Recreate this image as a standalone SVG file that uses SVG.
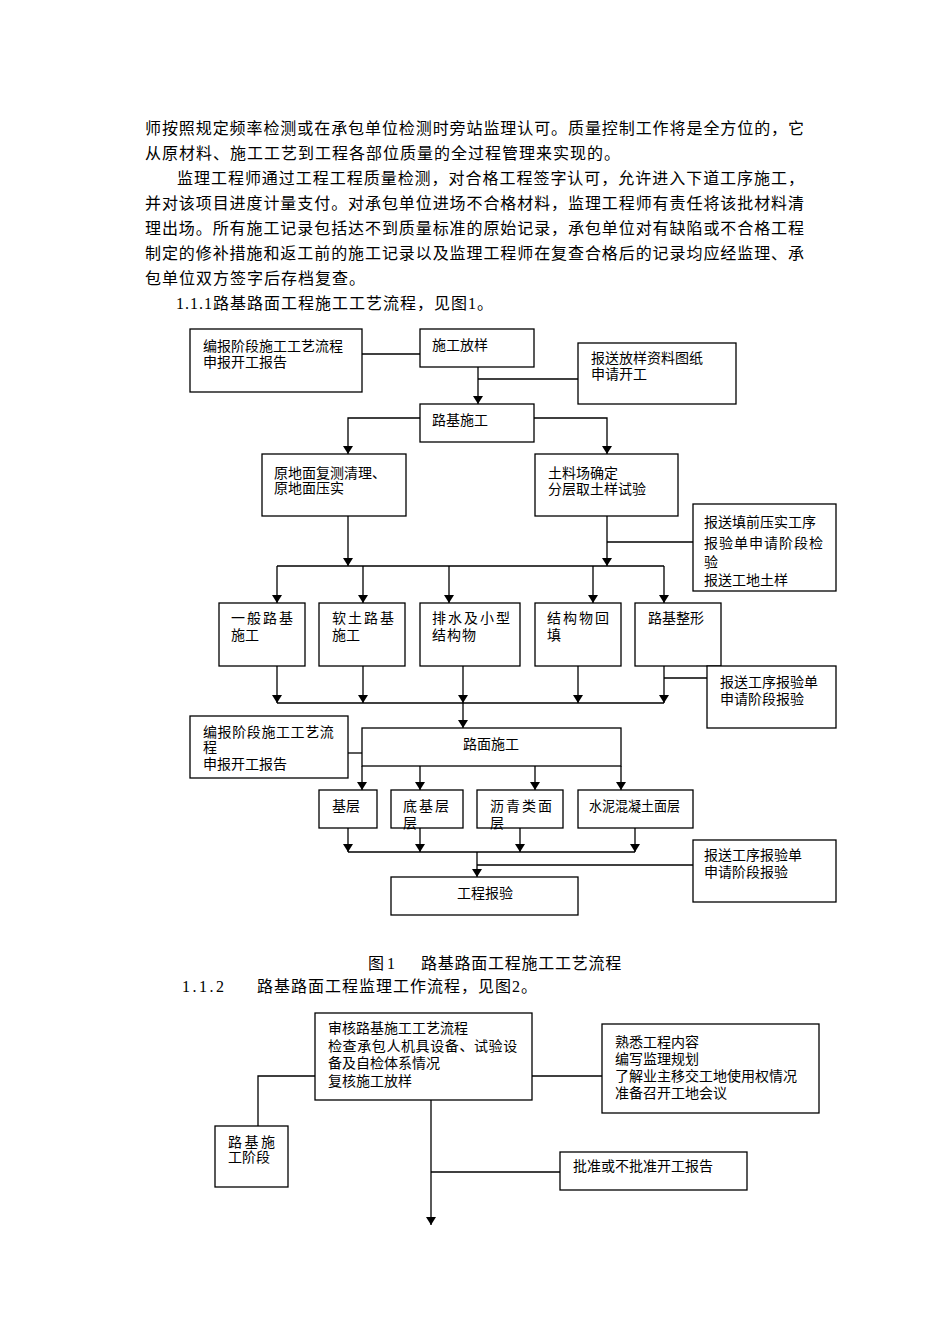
<svg xmlns="http://www.w3.org/2000/svg" width="950" height="1344" viewBox="0 0 950 1344">
<defs>
<style>
.t{font-family:"Liberation Serif","Noto Sans CJK SC",serif;font-size:14px;fill:#000}
.p{font-size:16px;letter-spacing:1px}
.s{letter-spacing:2px}
.b{fill:#fff;stroke:#000;stroke-width:1.3}
.c{fill:none;stroke:#000;stroke-width:1.3}
.a{marker-end:url(#ar)}
</style>
<marker id="ar" viewBox="0 0 8 10" markerWidth="8" markerHeight="10" refX="8" refY="5" orient="auto" markerUnits="userSpaceOnUse">
<path d="M0,0 L8,5 L0,10 z" fill="#000"/>
</marker>
</defs>
<rect width="950" height="1344" fill="#fff"/>
<g id="body-text" class="t">
<text class="p" x="145" y="134" textLength="660" lengthAdjust="spacing">师按照规定频率检测或在承包单位检测时旁站监理认可。质量控制工作将是全方位的，它</text>
<text class="p" x="145" y="159">从原材料、施工工艺到工程各部位质量的全过程管理来实现的。</text>
<text class="p" x="177" y="184" textLength="628" lengthAdjust="spacing">监理工程师通过工程工程质量检测，对合格工程签字认可，允许进入下道工序施工，</text>
<text class="p" x="145" y="209" textLength="660" lengthAdjust="spacing">并对该项目进度计量支付。对承包单位进场不合格材料，监理工程师有责任将该批材料清</text>
<text class="p" x="145" y="234" textLength="660" lengthAdjust="spacing">理出场。所有施工记录包括达不到质量标准的原始记录，承包单位对有缺陷或不合格工程</text>
<text class="p" x="145" y="259" textLength="660" lengthAdjust="spacing">制定的修补措施和返工前的施工记录以及监理工程师在复查合格后的记录均应经监理、承</text>
<text class="p" x="145" y="284">包单位双方签字后存档复查。</text>
<text class="p" x="176" y="309">1.1.1路基路面工程施工工艺流程，见图1。</text>
<text class="p" x="368" y="969" style="letter-spacing:3px">图1</text>
<text class="p" x="421" y="969" style="letter-spacing:0.75px">路基路面工程施工工艺流程</text>
<text class="p" x="182" y="992" style="letter-spacing:2.5px">1.1.2</text>
<text class="p" x="257" y="992">路基路面工程监理工作流程，见图2。</text>
</g>
<g id="connectors">
<line class="c" x1="362" y1="354" x2="420" y2="354"/>
<line class="c a" x1="478" y1="367" x2="478" y2="404"/>
<line class="c" x1="478" y1="379" x2="578" y2="379"/>
<polyline class="c a" points="420,418 348,418 348,454"/>
<polyline class="c a" points="534,418 607,418 607,454"/>
<line class="c a" x1="348" y1="516" x2="348" y2="566"/>
<line class="c a" x1="607" y1="516" x2="607" y2="566"/>
<line class="c" x1="693" y1="542" x2="607" y2="542"/>
<line class="c" x1="277" y1="566" x2="664" y2="566"/>
<line class="c a" x1="277" y1="566" x2="277" y2="603"/>
<line class="c a" x1="363" y1="566" x2="363" y2="603"/>
<line class="c a" x1="449" y1="566" x2="449" y2="603"/>
<line class="c a" x1="593" y1="566" x2="593" y2="603"/>
<line class="c a" x1="664" y1="566" x2="664" y2="603"/>
<line class="c a" x1="277" y1="666" x2="277" y2="703"/>
<line class="c a" x1="363" y1="666" x2="363" y2="703"/>
<line class="c a" x1="463" y1="666" x2="463" y2="703"/>
<line class="c a" x1="578" y1="666" x2="578" y2="703"/>
<line class="c a" x1="664" y1="666" x2="664" y2="703"/>
<line class="c" x1="277" y1="703" x2="664" y2="703"/>
<line class="c" x1="664" y1="678" x2="707" y2="678"/>
<line class="c a" x1="463" y1="703" x2="463" y2="728"/>
<line class="c" x1="348" y1="753" x2="362" y2="753"/>
<line class="c a" x1="362" y1="766" x2="362" y2="790"/>
<line class="c a" x1="420" y1="766" x2="420" y2="790"/>
<line class="c a" x1="535" y1="766" x2="535" y2="790"/>
<line class="c a" x1="621" y1="766" x2="621" y2="790"/>
<line class="c a" x1="348" y1="828" x2="348" y2="852"/>
<line class="c a" x1="420" y1="828" x2="420" y2="852"/>
<line class="c a" x1="520" y1="828" x2="520" y2="852"/>
<line class="c a" x1="635" y1="828" x2="635" y2="852"/>
<line class="c" x1="348" y1="852" x2="635" y2="852"/>
<line class="c a" x1="477" y1="852" x2="477" y2="877"/>
<line class="c" x1="477" y1="865" x2="693" y2="865"/>
<polyline class="c" points="315,1076 258,1076 258,1126"/>
<line class="c" x1="532" y1="1076" x2="602" y2="1076"/>
<line class="c a" x1="431" y1="1100" x2="431" y2="1225"/>
<line class="c" x1="431" y1="1172" x2="560" y2="1172"/>
</g>
<g id="n-report1" class="t"><rect class="b" x="190" y="329" width="172" height="63"/><text x="203" y="351">编报阶段施工工艺流程</text><text x="203" y="367">申报开工报告</text></g>
<g id="n-layout" class="t"><rect class="b" x="420" y="329" width="114" height="38"/><text x="432" y="350">施工放样</text></g>
<g id="n-drawings" class="t"><rect class="b" x="578" y="343" width="158" height="61"/><text x="591" y="363">报送放样资料图纸</text><text x="591" y="379">申请开工</text></g>
<g id="n-subgrade" class="t"><rect class="b" x="420" y="404" width="114" height="38"/><text x="432" y="425">路基施工</text></g>
<g id="n-ground" class="t"><rect class="b" x="262" y="454" width="144" height="62"/><text x="274" y="478">原地面复测清理、</text><text x="274" y="493">原地面压实</text></g>
<g id="n-soil" class="t"><rect class="b" x="535" y="454" width="143" height="62"/><text x="548" y="478">土料场确定</text><text x="548" y="494">分层取土样试验</text></g>
<g id="n-fill-report" class="t"><rect class="b" x="693" y="504" width="143" height="87"/><text x="704" y="527">报送填前压实工序</text><text x="704" y="548" style="letter-spacing:1px">报验单申请阶段检</text><text x="704" y="567">验</text><text x="704" y="585">报送工地土样</text></g>
<g id="n-general" class="t"><rect class="b" x="219" y="603" width="86" height="63"/><text class="s" x="231" y="623">一般路基</text><text x="231" y="640">施工</text></g>
<g id="n-soft" class="t"><rect class="b" x="319" y="603" width="86" height="63"/><text class="s" x="332" y="623">软土路基</text><text x="332" y="640">施工</text></g>
<g id="n-drain" class="t"><rect class="b" x="420" y="603" width="100" height="63"/><text class="s" x="432" y="623">排水及小型</text><text x="432" y="640" style="letter-spacing:1px">结构物</text></g>
<g id="n-backfill" class="t"><rect class="b" x="535" y="603" width="86" height="63"/><text class="s" x="547" y="623">结构物回</text><text x="547" y="640">填</text></g>
<g id="n-shaping" class="t"><rect class="b" x="635" y="603" width="86" height="63"/><text x="648" y="623">路基整形</text></g>
<g id="n-proc-report1" class="t"><rect class="b" x="707" y="666" width="129" height="62"/><text x="720" y="687">报送工序报验单</text><text x="720" y="704">申请阶段报验</text></g>
<g id="n-report2" class="t"><rect class="b" x="190" y="716" width="158" height="62"/><text x="203" y="737" style="letter-spacing:0.6px">编报阶段施工工艺流</text><text x="203" y="752">程</text><text x="203" y="769">申报开工报告</text></g>
<g id="n-pavement" class="t"><rect class="b" x="362" y="728" width="259" height="38"/><text x="491" y="749" text-anchor="middle">路面施工</text></g>
<g id="n-base" class="t"><rect class="b" x="319" y="790" width="58" height="38"/><text x="332" y="811">基层</text></g>
<g id="n-subbase" class="t"><rect class="b" x="391" y="790" width="72" height="38"/><text class="s" x="403" y="811">底基层</text><text x="403" y="828">层</text></g>
<g id="n-asphalt" class="t"><rect class="b" x="477" y="790" width="86" height="38"/><text class="s" x="490" y="811">沥青类面</text><text x="490" y="828">层</text></g>
<g id="n-concrete" class="t"><rect class="b" x="578" y="790" width="115" height="38"/><text x="589" y="811" textLength="91" lengthAdjust="spacingAndGlyphs">水泥混凝土面层</text></g>
<g id="n-inspect" class="t"><rect class="b" x="391" y="877" width="187" height="38"/><text x="485" y="898" text-anchor="middle">工程报验</text></g>
<g id="n-proc-report2" class="t"><rect class="b" x="693" y="840" width="143" height="62"/><text x="704" y="860">报送工序报验单</text><text x="704" y="877">申请阶段报验</text></g>
<g id="m-review" class="t"><rect class="b" x="315" y="1013" width="217" height="87"/><text x="328" y="1033">审核路基施工工艺流程</text><text x="328" y="1051" style="letter-spacing:0.6px">检查承包人机具设备、试验设</text><text x="328" y="1068">备及自检体系情况</text><text x="328" y="1086">复核施工放样</text></g>
<g id="m-familiar" class="t"><rect class="b" x="602" y="1024" width="217" height="89"/><text x="615" y="1047">熟悉工程内容</text><text x="615" y="1064">编写监理规划</text><text x="615" y="1081">了解业主移交工地使用权情况</text><text x="615" y="1098">准备召开工地会议</text></g>
<g id="m-stage" class="t"><rect class="b" x="215" y="1126" width="73" height="61"/><text x="228" y="1147" style="letter-spacing:2.5px">路基施</text><text x="228" y="1162">工阶段</text></g>
<g id="m-approve" class="t"><rect class="b" x="560" y="1152" width="187" height="38"/><text x="573" y="1171">批准或不批准开工报告</text></g>
</svg>
